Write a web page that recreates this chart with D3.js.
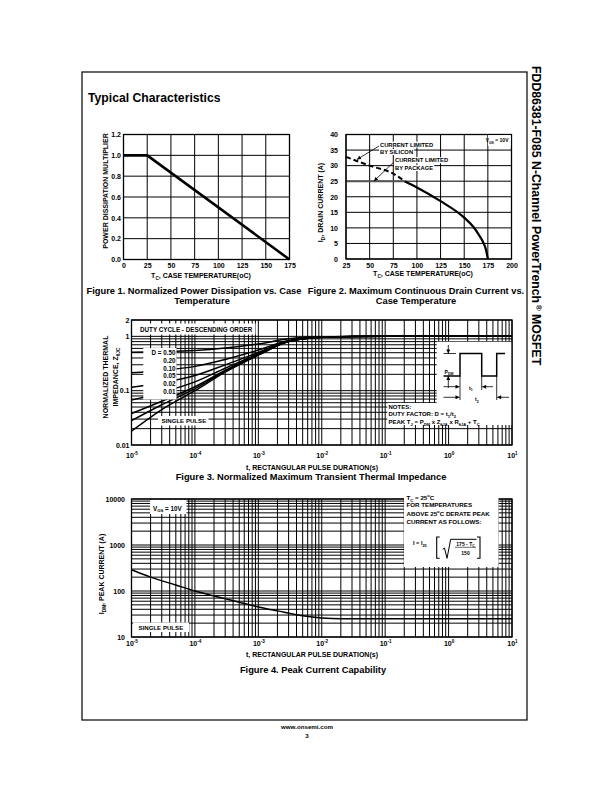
<!DOCTYPE html>
<html>
<head>
<meta charset="utf-8">
<script src="https://cdn.jsdelivr.net/npm/d3@7"></script>
<style>
  body { margin: 0; background: #fff; }
  svg { display: block; }
  text { font-family: "Liberation Sans", Arial, sans-serif; font-weight: bold; fill: #000; }
</style>
</head>
<body>
<script>
// Values (typical characteristics, page 3)

// Figure 1: power dissipation multiplier vs case temperature
const f1Temp = [0, 25, 175];
const f1Mult = [1.0, 1.0, 0.0];
const f1XTicks = [0, 25, 50, 75, 100, 125, 150, 175];
const f1YTicks = [0.0, 0.2, 0.4, 0.6, 0.8, 1.0, 1.2];

// Figure 2: max continuous drain current vs case temperature
const f2XTicks = [25, 50, 75, 100, 125, 150, 175, 200];
const f2YTicks = [0, 5, 10, 15, 20, 25, 30, 35, 40];
const siliconTemp = [25, 50, 75, 87];          // dashed part, above package limit
const siliconAmps = [32.8, 30.0, 27.4, 25.0];
const dieTemp = [87, 100, 125, 150, 160, 165, 170, 173, 175];
const dieAmps = [25.0, 23.0, 18.6, 13.3, 10.2, 8.0, 5.4, 3.0, 0];
const packageTemp = [25, 87];
const packageAmps = [25, 25];

// Figure 3: normalized transient thermal impedance
const pulseTime = [1e-5, 3e-5, 1e-4, 3e-4, 1e-3, 3e-3, 1e-2, 3e-2, 1e-1, 1, 10];
const zD50 = [0.51, 0.523, 0.55, 0.61, 0.725, 0.9, 0.98, 0.995, 1, 1, 1];
const zD20 = [0.214, 0.236, 0.28, 0.376, 0.56, 0.84, 0.968, 0.993, 1, 1, 1];
const zD10 = [0.116, 0.14, 0.19, 0.298, 0.505, 0.82, 0.964, 0.992, 1, 1, 1];
const zD05 = [0.067, 0.093, 0.145, 0.259, 0.478, 0.81, 0.962, 0.991, 1, 1, 1];
const zD02 = [0.038, 0.064, 0.118, 0.236, 0.461, 0.804, 0.961, 0.99, 1, 1, 1];
const zD01 = [0.028, 0.055, 0.109, 0.228, 0.456, 0.802, 0.96, 0.99, 1, 1, 1];
const zSingle = [0.018, 0.045, 0.1, 0.22, 0.45, 0.8, 0.96, 0.99, 1, 1, 1];
const dutyLabels = ["D = 0.50", "0.20", "0.10", "0.05", "0.02", "0.01"];
const timeDecades = [1e-5, 1e-4, 1e-3, 1e-2, 1e-1, 1, 10];
const f3YTicks = [0.01, 0.1, 1, 2];

// Figure 4: peak current capability, single pulse
const peakTime = [1e-5, 2e-5, 5e-5, 1e-4, 2e-4, 5e-4, 1e-3, 2e-3, 5e-3, 1e-2, 2e-2, 1e-1, 1, 10];
const peakAmps = [290, 200, 135, 100, 78, 57, 45, 37, 29, 26, 25, 25, 25, 25];
const f4YTicks = [10, 100, 1000, 10000];

const svg = d3.select("body").append("svg").attr("width", 612).attr("height", 792);

const defs = svg.append("defs");
defs.append("marker").attr("id", "arr").attr("viewBox", "0 0 10 10")
  .attr("refX", 10).attr("refY", 5).attr("markerUnits", "userSpaceOnUse")
  .attr("markerWidth", 5).attr("markerHeight", 4).attr("orient", "auto")
  .append("path").attr("d", "M0,0L10,5L0,10z").attr("fill", "#000");

// text with sub/superscript pieces: parts = [str] or [str, "sub"|"sup"]
function rich(g, x, y, parts, size, anchor) {
  const t = g.append("text").attr("x", x).attr("y", y).attr("font-size", size)
    .attr("text-anchor", anchor || "start");
  let shift = 0;
  parts.forEach(p => {
    const kind = p[1];
    const target = kind === "sub" ? size * 0.3 : kind === "sup" ? -size * 0.4 : 0;
    t.append("tspan").attr("dy", target - shift).attr("font-size", kind ? size * 0.68 : size).text(p[0]);
    shift = target;
  });
  return t;
}

function gridLines(g, x, y, xs, ys) {
  const [xa, xb] = x.range(), [yb, ya] = y.range();
  g.append("g").selectAll("line").data(xs).join("line")
    .attr("x1", d => x(d)).attr("x2", d => x(d)).attr("y1", ya).attr("y2", yb)
    .attr("stroke", "#000").attr("stroke-width", 1);
  g.append("g").selectAll("line").data(ys).join("line")
    .attr("x1", xa).attr("x2", xb).attr("y1", d => y(d)).attr("y2", d => y(d))
    .attr("stroke", "#000").attr("stroke-width", 1);
}

function frame(g, x, y) {
  const [xa, xb] = x.range(), [yb, ya] = y.range();
  g.append("rect").attr("x", xa).attr("y", ya).attr("width", xb - xa).attr("height", yb - ya)
    .attr("fill", "none").attr("stroke", "#000").attr("stroke-width", 1.3);
}

function whiteBox(g, x0, y0, x1, y1) {
  g.append("rect").attr("x", x0).attr("y", y0).attr("width", x1 - x0).attr("height", y1 - y0)
    .attr("fill", "#fff");
}

function styleAxis(sel, size) {
  sel.select(".domain").remove();
  sel.selectAll("text").attr("font-size", size);
}

function powerLabels(sel) {
  sel.selectAll("text").each(function (d) {
    const t = d3.select(this);
    t.text("10");
    t.append("tspan").attr("dy", -3).attr("font-size", 4.6).text(Math.round(Math.log10(d)));
  });
}

function withBg(g, textSel) {
  const bb = textSel.node().getBBox();
  g.insert("rect", () => textSel.node()).attr("x", bb.x - 1).attr("y", bb.y)
    .attr("width", bb.width + 2).attr("height", bb.height).attr("fill", "#fff");
}

// ---- page frame, heading, side title, footer ----
svg.append("rect").attr("x", 82).attr("y", 72).attr("width", 445).attr("height", 648)
  .attr("fill", "none").attr("stroke", "#000").attr("stroke-width", 1.2);

svg.append("text").attr("x", 88).attr("y", 101.7).attr("font-size", 12.2).text("Typical Characteristics");

const side = svg.append("text").attr("transform", "translate(531.5,66) rotate(90)").attr("font-size", 12.3);
side.append("tspan").text("FDD86381-F085 N-Channel PowerTrench");
side.append("tspan").attr("dx", 1.5).attr("dy", -4.5).attr("font-size", 8).text("®");
side.append("tspan").attr("dy", 4.5).text(" MOSFET");

svg.append("text").attr("x", 307).attr("y", 729).attr("font-size", 6.2).attr("text-anchor", "middle").text("www.onsemi.com");
svg.append("text").attr("x", 307).attr("y", 738).attr("font-size", 6.2).attr("text-anchor", "middle").text("3");

// ---- Figure 1 ----
const g1 = svg.append("g");
const x1 = d3.scaleLinear().domain([0, 175]).range([123.5, 289.5]);
const y1 = d3.scaleLinear().domain([0, 1.2]).range([259.5, 134.5]);
gridLines(g1, x1, y1, f1XTicks, f1YTicks);
g1.append("path").datum(d3.zip(f1Temp, f1Mult))
  .attr("d", d3.line().x(d => x1(d[0])).y(d => y1(d[1])))
  .attr("fill", "none").attr("stroke", "#000").attr("stroke-width", 2.6);
frame(g1, x1, y1);
g1.append("g").attr("transform", "translate(0,259.5)")
  .call(d3.axisBottom(x1).tickValues(f1XTicks).tickSize(0).tickPadding(3.7)).call(styleAxis, 7);
g1.append("g").attr("transform", "translate(123.5,0)")
  .call(d3.axisLeft(y1).tickValues(f1YTicks).tickFormat(d3.format(".1f")).tickSize(0).tickPadding(2.5))
  .call(styleAxis, 7);
rich(g1, 0, 0, [["POWER DISSIPATION MULTIPLIER"]], 7, "middle").attr("transform", "translate(107.5,191) rotate(-90)");
rich(g1, 201, 277.8, [["T"], ["C", "sub"], [", CASE TEMPERATURE(oC)"]], 7, "middle");
rich(g1, 194, 293.8, [["Figure 1.  Normalized Power Dissipation vs. Case"]], 9.3, "middle");
rich(g1, 202, 303.8, [["Temperature"]], 9.3, "middle");

// ---- Figure 2 ----
const g2 = svg.append("g");
const x2 = d3.scaleLinear().domain([25, 200]).range([346, 511.5]);
const y2 = d3.scaleLinear().domain([0, 40]).range([259, 134.5]);
gridLines(g2, x2, y2, f2XTicks, f2YTicks);
const line2 = d3.line().x(d => x2(d[0])).y(d => y2(d[1])).curve(d3.curveMonotoneX);
g2.append("path").datum(d3.zip(packageTemp, packageAmps)).attr("d", line2)
  .attr("fill", "none").attr("stroke", "#555").attr("stroke-width", 2);
g2.append("path").datum(d3.zip(siliconTemp, siliconAmps)).attr("d", line2)
  .attr("fill", "none").attr("stroke", "#000").attr("stroke-width", 2).attr("stroke-dasharray", "5,3");
g2.append("path").datum(d3.zip(dieTemp, dieAmps)).attr("d", line2)
  .attr("fill", "none").attr("stroke", "#000").attr("stroke-width", 2.2);
frame(g2, x2, y2);
whiteBox(g2, 488, 135.2, 510.8, 146);
rich(g2, 508.5, 142, [["V"], ["GS", "sub"], [" = 10V"]], 5, "end");
[["CURRENT LIMITED", 380, 146.5], ["BY SILICON", 380, 154], ["CURRENT LIMITED", 395, 162.2], ["BY PACKAGE", 395, 170]]
  .forEach(a => withBg(g2, rich(g2, a[1], a[2], [[a[0]]], 5.8)));
g2.append("line").attr("x1", 379).attr("y1", 146).attr("x2", 357).attr("y2", 159.5)
  .attr("stroke", "#000").attr("stroke-width", 0.8).attr("marker-end", "url(#arr)");
g2.append("line").attr("x1", 393.3).attr("y1", 162.5).attr("x2", 374).attr("y2", 181)
  .attr("stroke", "#000").attr("stroke-width", 0.8).attr("marker-end", "url(#arr)");
g2.append("g").attr("transform", "translate(0,259)")
  .call(d3.axisBottom(x2).tickValues(f2XTicks).tickSize(0).tickPadding(4.2)).call(styleAxis, 7);
g2.append("g").attr("transform", "translate(346,0)")
  .call(d3.axisLeft(y2).tickValues(f2YTicks).tickSize(0).tickPadding(8)).call(styleAxis, 7);
rich(g2, 0, 0, [["I"], ["D", "sub"], [", DRAIN CURRENT (A)"]], 7, "middle").attr("transform", "translate(323.2,202.5) rotate(-90)");
rich(g2, 423, 276, [["T"], ["C", "sub"], [", CASE TEMPERATURE(oC)"]], 7, "middle");
rich(g2, 416, 293.8, [["Figure 2.  Maximum Continuous Drain Current vs."]], 9.3, "middle");
rich(g2, 416, 303.8, [["Case Temperature"]], 9.3, "middle");

// ---- Figure 3 ----
const g3 = svg.append("g");
const x3 = d3.scaleLog().domain([1e-5, 10]).range([131.5, 512]);
const y3 = d3.scaleLog().domain([0.01, 2]).range([445, 320]);
gridLines(g3, x3, y3, x3.ticks(), y3.ticks());
const zLine = d3.line().x((d, i) => x3(pulseTime[i])).y(d => y3(d)).curve(d3.curveMonotoneX);
g3.append("g").selectAll("path").data([zD50, zD20, zD10, zD05, zD02, zD01, zSingle]).join("path")
  .attr("d", zLine).attr("fill", "none").attr("stroke", "#000").attr("stroke-width", 1.5);

whiteBox(g3, 136.7, 323.5, 255.5, 334.5);
rich(g3, 140, 331.6, [["DUTY CYCLE - DESCENDING ORDER"]], 6.3);
whiteBox(g3, 143.3, 348, 176.5, 399.5);
g3.append("g").selectAll("text").data(dutyLabels).join("text")
  .attr("x", 175.5).attr("y", (d, i) => 355 + i * 7.8).attr("font-size", 6.3)
  .attr("text-anchor", "end").text(d => d);
whiteBox(g3, 158, 416, 208.5, 425.5);
rich(g3, 161.5, 423, [["SINGLE PULSE"]], 6.1);

// pulse sketch and notes
whiteBox(g3, 436.7, 341.7, 512, 425);
whiteBox(g3, 387.3, 403, 512, 425);
const pd = g3.append("g").attr("transform", "translate(437,342)");
const hi = 11.5, lo = 34;
pd.append("path").attr("d", `M6.5,${lo}H23V${hi}H44.7V${lo}H59.7V${hi}H68`)
  .attr("fill", "none").attr("stroke", "#000").attr("stroke-width", 1.5);
const thin = [[6.5, hi, 19, hi], [23, lo, 23, 58], [44.7, lo, 44.7, 48], [59.7, lo, 59.7, 58]];
pd.append("g").selectAll("line").data(thin).join("line")
  .attr("x1", d => d[0]).attr("y1", d => d[1]).attr("x2", d => d[2]).attr("y2", d => d[3])
  .attr("stroke", "#000").attr("stroke-width", 0.8);
const arrows = [[11.3, 3, 11.3, hi], [11.3, 46, 11.3, lo], [6.5, 44.7, 22.5, 44.7], [56, 44.7, 45.2, 44.7],
  [6.5, 55.3, 22.5, 55.3], [72, 55.3, 60.2, 55.3]];
pd.append("g").selectAll("line").data(arrows).join("line")
  .attr("x1", d => d[0]).attr("y1", d => d[1]).attr("x2", d => d[2]).attr("y2", d => d[3])
  .attr("stroke", "#000").attr("stroke-width", 0.8).attr("marker-end", "url(#arr)");
rich(pd, 7.5, 31.5, [["P"], ["DM", "sub"]], 5.2);
rich(pd, 32, 47.5, [["t"], ["1", "sub"]], 5.2);
rich(pd, 38, 59, [["t"], ["2", "sub"]], 5.2);
rich(g3, 388.5, 408.8, [["NOTES:"]], 6);
rich(g3, 388.5, 416.2, [["DUTY FACTOR: D = t"], ["1", "sub"], ["/t"], ["2", "sub"]], 6);
rich(g3, 388.5, 423.8, [["PEAK T"], ["J", "sub"], [" = P"], ["DM", "sub"], [" x Z"], ["\u03B8JA", "sub"],
  [" x R"], ["\u03B8JA", "sub"], [" + T"], ["C", "sub"]], 6);

frame(g3, x3, y3);
g3.append("g").attr("transform", "translate(0,445)")
  .call(d3.axisBottom(x3).tickValues(timeDecades).tickSize(0).tickPadding(8.5))
  .call(styleAxis, 7).call(powerLabels);
g3.append("g").attr("transform", "translate(131.5,0)")
  .call(d3.axisLeft(y3).tickValues(f3YTicks).tickFormat(d => String(d)).tickSize(0).tickPadding(2))
  .call(styleAxis, 7);
rich(g3, 0, 0, [["NORMALIZED THERMAL"]], 7, "middle").attr("transform", "translate(107.5,377) rotate(-90)");
rich(g3, 0, 0, [["IMPEDANCE, Z"], ["\u03B8JC", "sub"]], 7, "middle").attr("transform", "translate(117.5,377) rotate(-90)");
rich(g3, 312, 469.5, [["t, RECTANGULAR  PULSE DURATION(s)"]], 7, "middle");
rich(g3, 311, 480.3, [["Figure 3.  Normalized Maximum Transient Thermal Impedance"]], 9.3, "middle");

// ---- Figure 4 ----
const g4 = svg.append("g");
const x4 = d3.scaleLog().domain([1e-5, 10]).range([131.5, 512]);
const y4 = d3.scaleLog().domain([10, 10000]).range([637, 499]);
gridLines(g4, x4, y4, x4.ticks(), y4.ticks());
g4.append("path").datum(peakAmps)
  .attr("d", d3.line().x((d, i) => x4(peakTime[i])).y(d => y4(d)).curve(d3.curveMonotoneX))
  .attr("fill", "none").attr("stroke", "#000").attr("stroke-width", 1.5);
frame(g4, x4, y4);
whiteBox(g4, 150, 500, 186.5, 514);
rich(g4, 153, 510.5, [["V"], ["GS", "sub"], [" = 10V"]], 6.3);
whiteBox(g4, 133, 622.5, 189, 632);
rich(g4, 138.5, 629.5, [["SINGLE PULSE"]], 6.1);
whiteBox(g4, 404, 494.5, 498.5, 567);
rich(g4, 406.5, 499.8, [["T"], ["C", "sub"], [" = 25"], ["o", "sup"], ["C"]], 6.2);
rich(g4, 406.5, 507.3, [["FOR TEMPERATURES"]], 6.2);
rich(g4, 406.5, 515.6, [["ABOVE 25"], ["o", "sup"], ["C DERATE PEAK"]], 6.2);
rich(g4, 406.5, 524, [["CURRENT AS FOLLOWS:"]], 6.2);
rich(g4, 413, 545.2, [["I = I"], ["25", "sub"]], 5.6);
const fm = g4.append("g").attr("fill", "none").attr("stroke", "#000");
fm.append("path").attr("d", "M439.7,537H436.7V558.3H439.7").attr("stroke-width", 1.1);
fm.append("path").attr("d", "M477,537H480V558.3H477").attr("stroke-width", 1.1);
fm.append("path").attr("d", "M442.7,549.3L444.5,548L447,558.3L450.7,539.3H476.5").attr("stroke-width", 1);
fm.append("line").attr("x1", 455).attr("x2", 476).attr("y1", 547.3).attr("y2", 547.3).attr("stroke-width", 0.6);
rich(g4, 465.5, 545.6, [["175 - T"], ["C", "sub"]], 5, "middle");
rich(g4, 465.5, 555, [["150"]], 5, "middle");
g4.append("g").attr("transform", "translate(0,637)")
  .call(d3.axisBottom(x4).tickValues(timeDecades).tickSize(0).tickPadding(4.5))
  .call(styleAxis, 7).call(powerLabels);
g4.append("g").attr("transform", "translate(131.5,0)")
  .call(d3.axisLeft(y4).tickValues(f4YTicks).tickFormat(d => String(d)).tickSize(0).tickPadding(6.5))
  .call(styleAxis, 7);
rich(g4, 0, 0, [["I"], ["DM", "sub"], [", PEAK CURRENT (A)"]], 7, "middle").attr("transform", "translate(104.2,574) rotate(-90)");
rich(g4, 312, 657, [["t, RECTANGULAR PULSE DURATION(s)"]], 7, "middle");
rich(g4, 313, 673.3, [["Figure 4.  Peak Current Capability"]], 9.3, "middle");
</script>
</body>
</html>
